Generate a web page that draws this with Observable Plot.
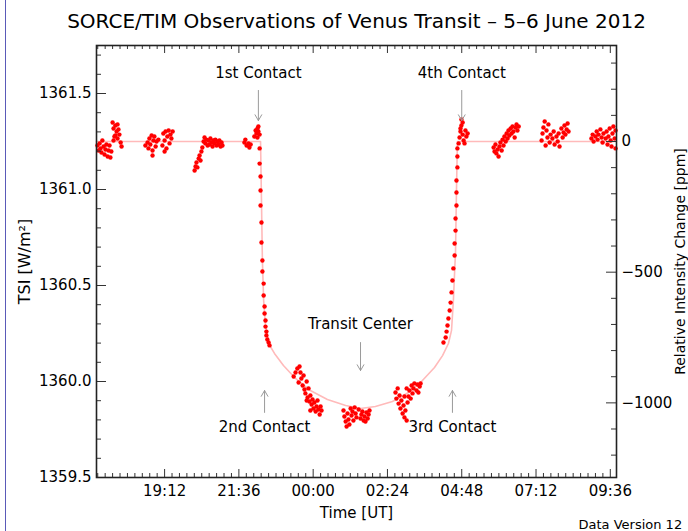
<!DOCTYPE html>
<html>
<head>
<meta charset="utf-8">
<script src="https://cdn.jsdelivr.net/npm/d3@7"></script>
<script src="https://cdn.jsdelivr.net/npm/@observablehq/plot@0.6"></script>
<style>
  html, body { margin: 0; padding: 0; background: #fff; }
  #wrap { position: relative; width: 688px; height: 531px; overflow: hidden; }
  #edge { position: absolute; left: 5px; top: 0; width: 1px; height: 531px; background: #5a5ab8; }
</style>
</head>
<body>
<div id="wrap"><div id="edge"></div></div>
<script>
// ---- Data (time in decimal hours UT counted from 00:00 on 5 June 2012; TSI in W/m^2) ----
const titleText = "SORCE/TIM Observations of Venus Transit \u2013 5\u20136 June 2012";
const baselineTSI = 1361.25;

const preTransitObs = [
  [17.03,1361.229],[17.06,1361.203],[17.10,1361.240],[17.13,1361.214],[17.16,1361.193],[17.19,1361.255],[17.23,1361.224],[17.26,1361.182],[17.29,1361.208],[17.32,1361.234],[17.36,1361.172],[17.39,1361.203],[17.42,1361.229],[17.45,1361.167],[17.48,1361.198],[17.52,1361.349],[17.55,1361.318],[17.58,1361.276],[17.61,1361.333],[17.65,1361.302],[17.68,1361.339],[17.68,1361.266],[17.71,1361.313],[17.74,1361.286],[17.78,1361.245],[17.81,1361.224],[17.55,1361.255],[17.61,1361.281],
  [18.58,1361.229],[18.65,1361.245],[18.68,1361.214],[18.71,1361.266],[18.74,1361.234],[18.78,1361.281],[18.81,1361.203],[18.84,1361.255],[18.87,1361.276],[18.91,1361.224],[18.94,1361.250],[18.81,1361.177],[19.00,1361.260],[19.13,1361.229],[19.16,1361.292],[19.20,1361.255],[19.23,1361.302],[19.26,1361.214],[19.29,1361.276],[19.33,1361.307],[19.36,1361.240],[19.39,1361.286],[19.42,1361.266],[19.46,1361.302],[19.20,1361.198],
  [20.17,1361.099],[20.20,1361.120],[20.23,1361.141],[20.26,1361.115],[20.30,1361.161],[20.33,1361.177],[20.36,1361.151],[20.39,1361.198],[20.42,1361.219],[20.46,1361.250],[20.49,1361.271],[20.52,1361.240],[20.55,1361.260],[20.59,1361.229],[20.62,1361.255],[20.65,1361.234],[20.68,1361.266],[20.72,1361.245],[20.75,1361.224],[20.78,1361.255],[20.81,1361.240],[20.84,1361.260],[20.88,1361.229],[20.91,1361.250],[20.94,1361.234],[20.97,1361.255],[21.01,1361.224],[21.04,1361.245],[21.07,1361.229],
  [21.78,1361.245],[21.81,1361.260],[21.85,1361.229],[21.91,1361.240],[21.94,1361.219],[21.98,1361.234],[22.10,1361.276],[22.14,1361.307],[22.17,1361.292],[22.20,1361.318],[22.20,1361.271],[22.23,1361.302],[22.27,1361.286],[22.23,1361.328]
];
const ingressObs = [
  [22.27,1361.214],[22.27,1361.135],[22.30,1361.068],[22.30,1360.995],[22.30,1360.917],[22.33,1360.828],[22.33,1360.724],[22.36,1360.630],[22.36,1360.573],[22.40,1360.510],[22.40,1360.448],[22.43,1360.391],[22.43,1360.354],[22.46,1360.318],[22.46,1360.286],[22.49,1360.260],[22.49,1360.240],[22.52,1360.219],[22.56,1360.203],[22.59,1360.188]
];
const inTransitObs = [
  [23.37,1360.026],[23.43,1360.047],[23.49,1360.068],[23.56,1360.078],[23.59,1360.047],[23.62,1360.016],[23.53,1359.995],[23.66,1359.979],[23.69,1360.031],[23.72,1359.958],[23.75,1359.938],[23.79,1360.000],[23.82,1359.917],[23.85,1359.964],[23.88,1359.896],[23.91,1359.927],[23.95,1359.880],[23.98,1359.906],[24.01,1359.859],[24.04,1359.891],[24.08,1359.844],[24.11,1359.870],[24.14,1359.901],[24.17,1359.854],[24.21,1359.828],[24.24,1359.870],[24.27,1359.849],[23.79,1359.901],[23.91,1359.849],
  [24.98,1359.849],[25.01,1359.818],[25.05,1359.792],[25.08,1359.766],[25.11,1359.833],[25.14,1359.802],[25.17,1359.776],[25.21,1359.859],[25.24,1359.823],[25.27,1359.844],[25.30,1359.797],[25.34,1359.865],[25.37,1359.833],[25.40,1359.813],[25.47,1359.854],[25.53,1359.807],[25.56,1359.828],[25.59,1359.844],[25.63,1359.797],[25.66,1359.818],[25.69,1359.792],[25.72,1359.839],[25.76,1359.807],[25.79,1359.828],[25.82,1359.849],
  [26.66,1359.943],[26.69,1359.911],[26.73,1359.964],[26.76,1359.885],[26.79,1359.927],[26.82,1359.859],[26.85,1359.901],[26.89,1359.833],[26.92,1359.875],[26.95,1359.813],[26.98,1359.849],[27.02,1359.797],[27.05,1359.891],[27.08,1359.922],[27.11,1359.953],[27.15,1359.911],[27.18,1359.979],[27.21,1359.938],[27.24,1359.964],[27.27,1359.990],[27.34,1359.953],[27.37,1359.984],[27.40,1359.943],[27.44,1359.974],[27.47,1359.990],[26.95,1359.922],[27.02,1359.964]
];
const egressObs = [
  [28.21,1360.203],[28.28,1360.229],[28.31,1360.260],[28.34,1360.292],[28.37,1360.328],[28.41,1360.370],[28.44,1360.411],[28.47,1360.464],[28.50,1360.526],[28.53,1360.589],[28.57,1360.656],[28.57,1360.719],[28.60,1360.786],[28.60,1360.849],[28.63,1360.917],[28.63,1360.984],[28.63,1361.047],[28.66,1361.115],[28.66,1361.172],[28.66,1361.214]
];
const postTransitObs = [
  [28.70,1361.240],[28.73,1361.271],[28.76,1361.302],[28.79,1361.333],[28.79,1361.365],[28.83,1361.349],[28.76,1361.318],[28.83,1361.286],[28.86,1361.255],[28.89,1361.240],[28.95,1361.276],[28.99,1361.292],[28.92,1361.307],
  [29.83,1361.219],[29.86,1361.198],[29.89,1361.234],[29.92,1361.188],[29.96,1361.208],[29.99,1361.172],[30.02,1361.224],[30.05,1361.245],[30.09,1361.203],[30.12,1361.260],[30.15,1361.229],[30.18,1361.276],[30.22,1361.250],[30.25,1361.292],[30.28,1361.266],[30.31,1361.307],[30.34,1361.281],[30.38,1361.318],[30.41,1361.292],[30.44,1361.328],[30.47,1361.302],[30.51,1361.271],[30.54,1361.323],[30.57,1361.339],[30.60,1361.307],[30.64,1361.328],
  [31.38,1361.255],[31.41,1361.292],[31.44,1361.323],[31.48,1361.354],[31.51,1361.229],[31.54,1361.307],[31.57,1361.271],[31.60,1361.339],[31.64,1361.245],[31.67,1361.286],[31.73,1361.266],[31.77,1361.302],[31.80,1361.234],[31.86,1361.276],[31.90,1361.250],[31.93,1361.292],[31.96,1361.224],[32.02,1361.318],[32.06,1361.271],[32.09,1361.297],[32.12,1361.333],[32.15,1361.286],[32.19,1361.313],[32.22,1361.344],[32.25,1361.302],
  [32.99,1361.266],[33.03,1361.286],[33.06,1361.250],[33.12,1361.276],[33.16,1361.302],[33.19,1361.260],[33.22,1361.286],[33.28,1361.313],[33.32,1361.271],[33.35,1361.245],[33.38,1361.292],[33.45,1361.266],[33.48,1361.302],[33.51,1361.234],[33.54,1361.276],[33.58,1361.318],[33.61,1361.255],[33.64,1361.224],[33.67,1361.292],[33.70,1361.328],[33.74,1361.266],[33.77,1361.214],[33.77,1361.307]
];

// Transit model curve
const modelHours = [17.00,22.30,22.33,22.36,22.40,22.46,22.56,22.75,23.04,23.43,23.91,24.46,25.05,25.53,26.01,26.56,27.08,27.53,27.92,28.18,28.37,28.47,28.53,28.60,28.63,28.66,33.80];
const modelTSI   = [1361.25,1361.25,1360.943,1360.630,1360.422,1360.292,1360.198,1360.146,1360.083,1360.016,1359.953,1359.906,1359.875,1359.859,1359.870,1359.896,1359.943,1360.005,1360.073,1360.135,1360.198,1360.266,1360.422,1360.682,1360.995,1361.25,1361.25];

// Contact annotations
const contactNames    = ["1st Contact","2nd Contact","Transit Center","3rd Contact","4th Contact"];
const contactHours    = [22.23, 22.43, 25.53, 28.50, 28.80];
const contactLabelTSI = [1361.604, 1359.760, 1360.297, 1359.760, 1361.604];
const arrowFromTSI    = [1361.516, 1359.839, 1360.203, 1359.839, 1361.516];
const arrowToTSI      = [1361.359, 1359.953, 1360.057, 1359.953, 1361.359];

// Axes
const xDomain = [17.0, 33.8];
const yDomain = [1359.5, 1361.75];
const xTickHours  = [19.2, 21.6, 24.0, 26.4, 28.8, 31.2, 33.6];
const xTickLabels = ["19:12","21:36","00:00","02:24","04:48","07:12","09:36"];
const yTicks = [1359.5, 1360.0, 1360.5, 1361.0, 1361.5];
const ppmTicks = [0, -500, -1000];
const ppmMinorTicks = [300, 200, 100, -100, -200, -300, -400, -600, -700, -800, -900, -1100, -1200];
const xLabel = "Time [UT]";
const yLabel = "TSI [W/m\u00b2]";
const y2Label = "Relative Intensity Change [ppm]";
const footnote = "Data Version 12";

// ---- Build ----
const W = 688, H = 531, mL = 96, mR = 72, mT = 45, mB = 54;
const plotW = W - mL - mR, plotH = H - mT - mB;

const toObs = arr => arr.map(([h, v]) => ({h, v}));
const observations = [preTransitObs, ingressObs, inTransitObs, egressObs, postTransitObs].flatMap(toObs);
const model = modelHours.map((h, i) => ({h, v: modelTSI[i]}));
const contacts = contactNames.map((name, i) => ({
  name, h: contactHours[i], ty: contactLabelTSI[i], y1: arrowFromTSI[i], y2: arrowToTSI[i]
}));

const xMinor = d3.range(0, 80).map(i => 17.04 + i * 0.24).filter(h => h <= xDomain[1] && !xTickHours.some(t => Math.abs(t - h) < 1e-6));
const yMinor = d3.range(0, 23).map(i => +(1359.5 + i * 0.1).toFixed(1)).filter(v => v <= yDomain[1] && !yTicks.includes(v));
const ppmToTSI = p => baselineTSI * (1 + p / 1e6);
const tsiToPpm = t => Math.round((t / baselineTSI - 1) * 1e6);
const fmtPpm = p => p < 0 ? "\u2212" + Math.abs(p) : String(p);

const font = "DejaVu Sans, sans-serif";
const axisInk = "#333";
const MAJ = 10, MIN = 5;

const chart = Plot.plot({
  width: W,
  height: H,
  marginLeft: mL,
  marginRight: mR,
  marginTop: mT,
  marginBottom: mB,
  x: {domain: xDomain},
  y: {domain: yDomain},
  style: {fontFamily: font, fontSize: "15px", color: "#000", background: "transparent", overflow: "visible"},
  marks: [
    // model
    Plot.line(model, {x: "h", y: "v", stroke: "#ffbaba", strokeWidth: 1.6}),
    // observations
    Plot.dot(observations, {x: "h", y: "v", r: 2.2, fill: "#ff0000", stroke: "none"}),
    // annotations
    Plot.arrow(contacts, {x1: "h", y1: "y1", x2: "h", y2: "y2", stroke: "#9a9a9a", strokeWidth: 1, headLength: 10, headAngle: 60}),
    Plot.text(contacts, {x: "h", y: "ty", text: "name", fontSize: 15, fill: "#000"}),
    // inward tick marks (left TSI, right ppm, bottom and top time)
    Plot.tickY(yTicks, {y: d => d, insetRight: plotW - MAJ, stroke: axisInk}),
    Plot.tickY(yMinor, {y: d => d, insetRight: plotW - MIN, stroke: axisInk}),
    Plot.tickY(ppmTicks.map(ppmToTSI), {y: d => d, insetLeft: plotW - MAJ, stroke: axisInk}),
    Plot.tickY(ppmMinorTicks.map(ppmToTSI), {y: d => d, insetLeft: plotW - MIN, stroke: axisInk}),
    Plot.tickX(xTickHours, {x: d => d, insetTop: plotH - MAJ + 2, stroke: axisInk}),
    Plot.tickX(xMinor, {x: d => d, insetTop: plotH - MIN + 1, stroke: axisInk}),
    Plot.tickX(xTickHours, {x: d => d, insetBottom: plotH - MAJ + 2, stroke: axisInk}),
    Plot.tickX(xMinor, {x: d => d, insetBottom: plotH - MIN + 1, stroke: axisInk}),
    // axis labels
    Plot.axisY(yTicks, {anchor: "left", tickSize: 0, tickPadding: 5, tickFormat: d => d.toFixed(1), label: null, fontSize: 15}),
    Plot.axisY(ppmTicks.map(ppmToTSI), {anchor: "right", tickSize: 0, tickPadding: 5, tickFormat: t => fmtPpm(tsiToPpm(t)), label: null, fontSize: 15}),
    Plot.axisX(xTickHours, {anchor: "bottom", tickSize: 0, tickPadding: 8, tickFormat: d => xTickLabels[xTickHours.indexOf(d)], label: null, fontSize: 15}),
    Plot.frame({stroke: "#222", strokeWidth: 1.6}),
    // titles and labels
    Plot.text([titleText], {frameAnchor: "top", lineAnchor: "middle", dy: -24, fontSize: 20, fill: "#000"}),
    Plot.text([xLabel], {frameAnchor: "bottom", lineAnchor: "middle", dy: 36, fontSize: 15, fill: "#000"}),
    Plot.text([yLabel], {frameAnchor: "left", textAnchor: "middle", lineAnchor: "middle", dx: -72, rotate: -90, fontSize: 16, fill: "#000"}),
    Plot.text([y2Label], {frameAnchor: "right", textAnchor: "middle", lineAnchor: "middle", dx: 64, rotate: -90, fontSize: 14, fill: "#000"}),
    Plot.text([footnote], {frameAnchor: "bottom-right", textAnchor: "start", lineAnchor: "middle", dx: -38, dy: 47, fontSize: 13, fill: "#000"})
  ]
});

document.getElementById("wrap").appendChild(chart);
</script>
</body>
</html>
